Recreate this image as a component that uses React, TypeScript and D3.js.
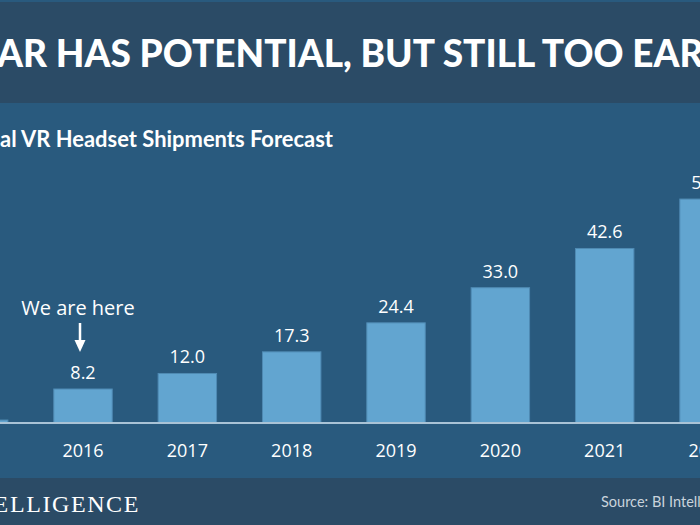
import React from "react";
import * as d3 from "d3";

const years = ["2015", "2016", "2017", "2018", "2019", "2020", "2021", "2022"];
const shipments = [0.6, 8.2, 12.0, 17.3, 24.4, 33.0, 42.6, 54.7];
const labelText = ["0.6", "8.2", "12.0", "17.3", "24.4", "33.0", "42.6", "54.7"];

const W = 700;
const H = 525;
const C = {
  banner: "#2b4b66",
  chart: "#295a7e",
  bar: "#62a5d0",
  barEdge: "#4f8ab3",
  axis: "#a9c3d6",
  text: "#ffffff",
  source: "#c9d3dc",
};

export default function App() {
  const baseline = 422.5;
  const x = d3
    .scaleBand<string>()
    .domain(years)
    .range([-73.5, 761.2])
    .paddingInner(0.44)
    .paddingOuter(0.22);
  const y = d3.scaleLinear().domain([0, 10]).range([baseline, baseline - 40.85]);

  const numFont = "'Open Sans', sans-serif";
  const headFont = "Lato, sans-serif";
  const x2016 = (x("2016") ?? 0) + x.bandwidth() / 2;

  return (
    <svg
      width={W}
      height={H}
      style={{ position: "absolute", left: 0, top: 0, display: "block" }}
    >
      <rect x={0} y={0} width={W} height={H} fill={C.chart} />
      <rect x={0} y={2} width={W} height={101} fill={C.banner} />
      <rect x={0} y={478} width={W} height={47} fill={C.banner} />

      <text
        x={-3}
        y={67}
        fill={C.text}
        fontFamily={headFont}
        fontWeight={900}
        fontSize={37}
      >
        AR HAS POTENTIAL, BUT STILL TOO EARLY
      </text>

      <text
        x={0}
        y={147}
        textAnchor="end"
        fill={C.text}
        fontFamily={headFont}
        fontWeight={700}
        fontSize={22}
      >
        Glob
      </text>
      <text
        x={0}
        y={147}
        fill={C.text}
        fontFamily={headFont}
        fontWeight={700}
        fontSize={22}
        textLength={333}
        lengthAdjust="spacingAndGlyphs"
      >
        al VR Headset Shipments Forecast
      </text>

      {years.map((yr, i) => {
        const bx = x(yr) ?? 0;
        const top = y(shipments[i]);
        const cx = bx + x.bandwidth() / 2;
        return (
          <g key={yr}>
            <rect
              x={bx}
              y={top}
              width={x.bandwidth()}
              height={baseline - top}
              fill={C.bar}
              stroke={C.barEdge}
              strokeWidth={1}
            />
            {i > 0 && (
              <text
                x={cx}
                y={top - 10}
                textAnchor="middle"
                fill={C.text}
                fontFamily={numFont}
                fontSize={18}
              >
                {labelText[i]}
              </text>
            )}
            <text
              x={cx}
              y={457}
              textAnchor="middle"
              fill={C.text}
              fontFamily={numFont}
              fontSize={18}
            >
              {yr}
            </text>
          </g>
        );
      })}

      <line x1={0} x2={W} y1={baseline + 0.5} y2={baseline + 0.5} stroke={C.axis} strokeWidth={2} />

      <text
        x={x2016 - 5}
        y={315}
        textAnchor="middle"
        fill={C.text}
        fontFamily={numFont}
        fontSize={20}
      >
        We are here
      </text>
      <line x1={x2016 - 3} x2={x2016 - 3} y1={323} y2={342} stroke={C.text} strokeWidth={2.5} />
      <path
        d={`M${x2016 - 8.5},340 L${x2016 + 2.5},340 L${x2016 - 3},352 Z`}
        fill={C.text}
      />

      <text
        x={140}
        y={512}
        textAnchor="end"
        fill={C.text}
        fontFamily="'Liberation Serif', serif"
        fontSize={24}
        letterSpacing={1.6}
      >
        BUSINESS INSIDER INTELLIGENCE
      </text>
      <text
        x={601}
        y={507}
        fill={C.source}
        fontFamily={headFont}
        fontSize={14.5}
      >
        Source: BI Intelligence
      </text>
    </svg>
  );
}
